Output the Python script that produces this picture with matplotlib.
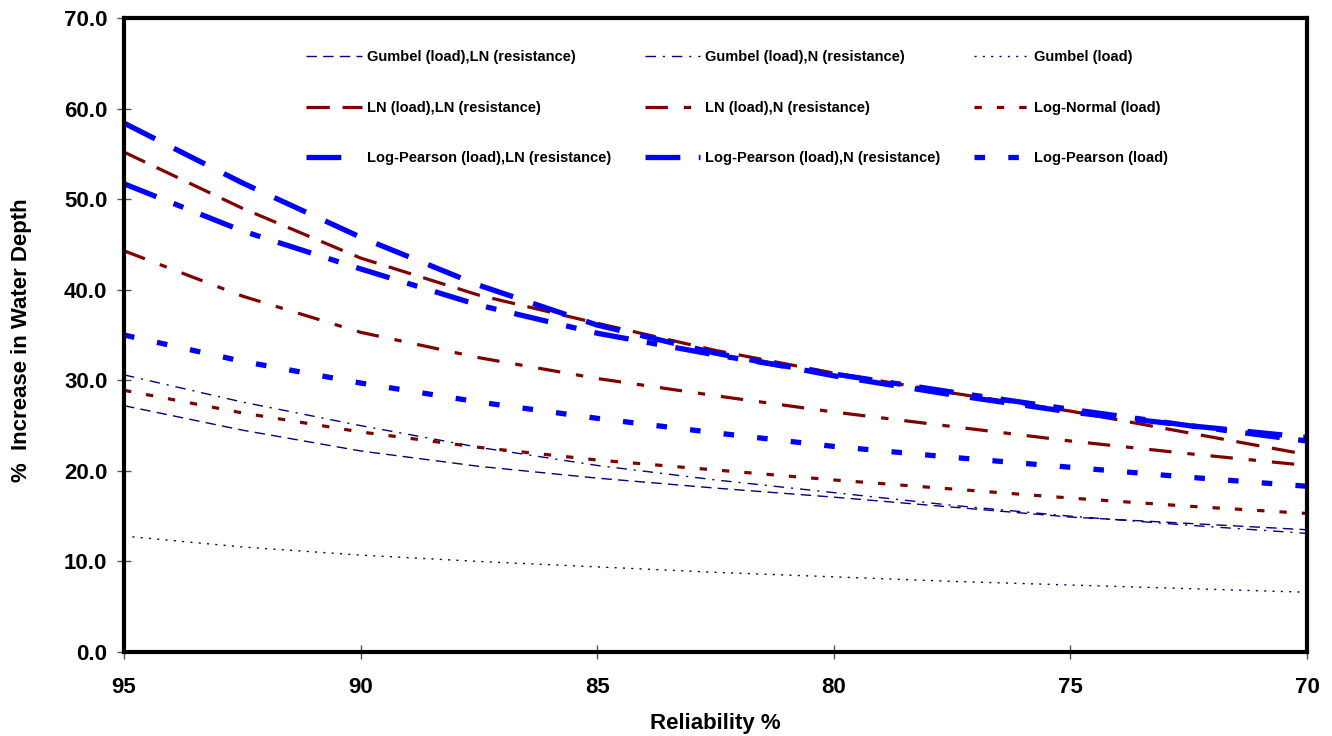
import matplotlib
matplotlib.use("Agg")
import matplotlib.pyplot as plt
import matplotlib.ticker as mticker

plt.rcParams['font.family'] = ['Liberation Sans', 'DejaVu Sans']
plt.rcParams['font.weight'] = 'bold'

# Reliability levels (x axis, reversed)
reliability = [95, 92.5, 90, 87.5, 85, 82.5, 80, 77.5, 75, 72.5, 70]

# % increase in water depth per load/resistance distribution combination
gumbel_ln = [27.2, 24.5, 22.2, 20.5, 19.2, 18.1, 17.1, 16.0, 14.9, 14.2, 13.5]
gumbel_n = [30.6, 27.6, 25.0, 22.6, 20.6, 19.0, 17.6, 16.2, 15.0, 14.0, 13.1]
gumbel_load = [12.8, 11.6, 10.7, 10.0, 9.4, 8.8, 8.3, 7.8, 7.4, 7.0, 6.6]
ln_ln = [55.2, 49.0, 43.5, 39.4, 36.3, 33.3, 30.8, 28.6, 26.6, 24.2, 21.8]
ln_n = [44.3, 39.3, 35.3, 32.5, 30.2, 28.3, 26.5, 24.9, 23.3, 21.9, 20.6]
lognormal_load = [28.9, 26.4, 24.3, 22.6, 21.2, 20.1, 19.0, 18.0, 17.0, 16.1, 15.3]
lp_ln = [58.4, 51.8, 45.8, 40.5, 36.1, 33.0, 30.5, 28.4, 26.5, 25.0, 23.7]
lp_n = [51.7, 46.5, 42.3, 38.3, 35.2, 32.8, 30.7, 28.7, 26.8, 25.0, 23.3]
lp_load = [35.0, 32.1, 29.7, 27.6, 25.8, 24.2, 22.7, 21.5, 20.4, 19.3, 18.3]

# legend fills column by column, so order is column-major
labels = [
    "Gumbel (load),LN (resistance)", "LN (load),LN (resistance)", "Log-Pearson (load),LN (resistance)",
    "Gumbel (load),N (resistance)", "LN (load),N (resistance)", "Log-Pearson (load),N (resistance)",
    "Gumbel (load)", "Log-Normal (load)", "Log-Pearson (load)",
]
series = [gumbel_ln, ln_ln, lp_ln, gumbel_n, ln_n, lp_n, gumbel_load, lognormal_load, lp_load]

navy, dred, blue = '#000080', '#800000', '#0000FF'
styles = [
    (navy, 1.0, (0, (7.5, 4.5))),
    (dred, 2.3, (0, (7.3, 4))),
    (blue, 3.8, (0, (6.6, 4))),
    (navy, 1.0, (0, (7.5, 5, 1.5, 5))),
    (dred, 2.3, (0, (7, 5, 2.3, 5))),
    (blue, 3.8, (0, (6.6, 3.5, 2, 3.5))),
    (navy, 1.0, (0, (1.5, 4.5))),
    (dred, 2.3, (0, (2.3, 4.7))),
    (blue, 3.8, (0, (2, 4.4))),
]

fig = plt.figure(figsize=(13.32, 7.36), dpi=100)
ax = fig.add_axes([0.0931, 0.1141, 0.8881, 0.8614])

for vals, lab, (c, lw, ls) in zip(series, labels, styles):
    ax.plot(reliability, vals, color=c, lw=lw, linestyle=ls, label=lab,
            dash_capstyle='butt')

ax.set_xlim(95, 70)
ax.set_ylim(0, 70)
ax.set_xticks([95, 90, 85, 80, 75, 70])
ax.set_yticks(range(0, 71, 10))
ax.yaxis.set_major_formatter(mticker.FormatStrFormatter('%.1f'))
ax.tick_params(direction='inout', length=10, width=1, color='#555555', labelsize=16)
ax.tick_params(axis='x', pad=13)
ax.tick_params(axis='y', pad=7)
for lab in ax.get_xticklabels() + ax.get_yticklabels():
    lab.set_fontweight('bold')
for sp in ax.spines.values():
    sp.set_linewidth(3)
    sp.set_color('black')

ax.set_xlabel("Reliability %", fontsize=16, fontweight='bold', va='center')
ax.set_ylabel("%  Increase in Water Depth", fontsize=16, fontweight='bold')
ax.xaxis.set_label_coords(0.5, -0.112)
ax.yaxis.set_label_coords(-0.078, 0.492)

ax.legend(loc='upper left', bbox_to_anchor=(0.143, 0.97), ncol=3, frameon=False,
          prop={'size': 10.5, 'weight': 'bold'}, handlelength=3.8, handletextpad=0.35,
          columnspacing=2.3, labelspacing=2.5)

fig.savefig("out.png", dpi=100)
